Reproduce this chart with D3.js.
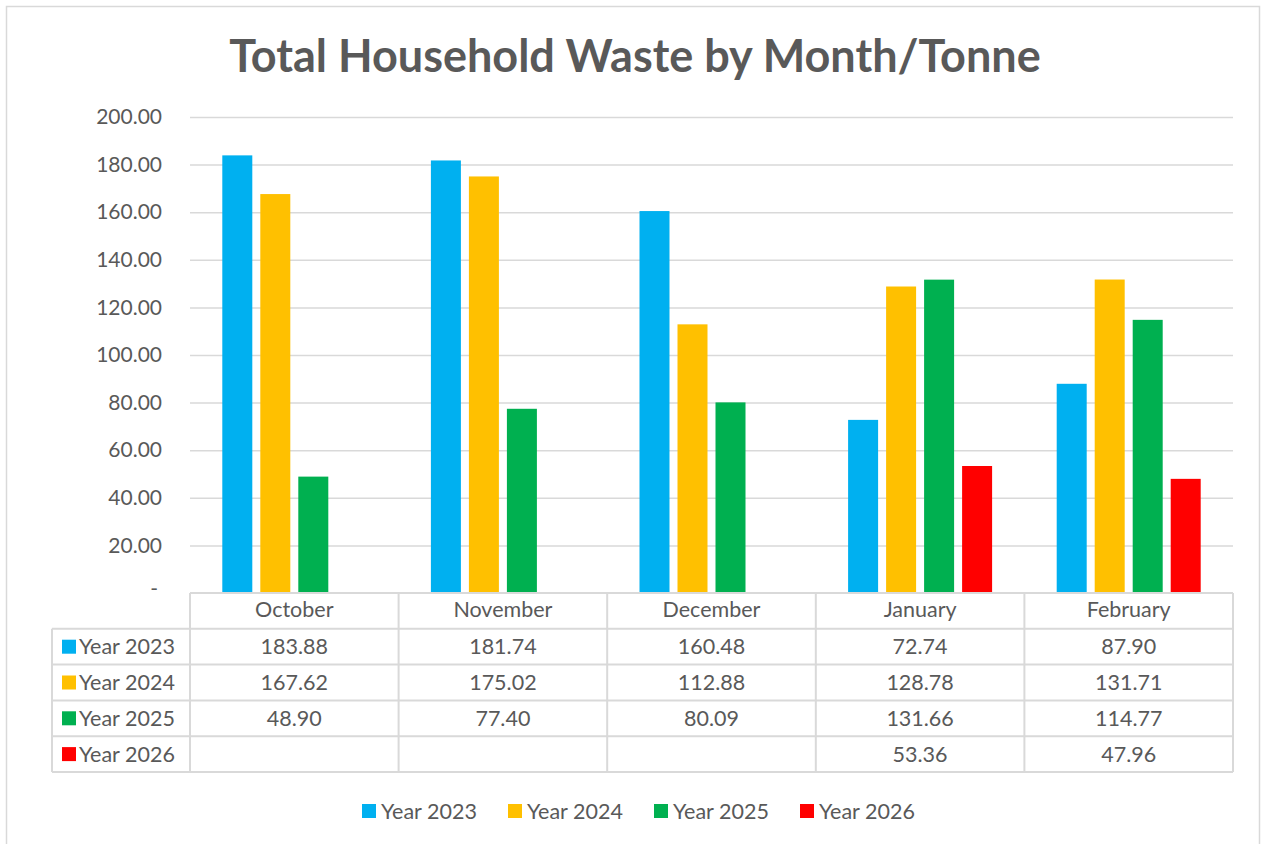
<!DOCTYPE html>
<html><head><meta charset="utf-8">
<script src="https://cdn.jsdelivr.net/npm/d3@7"></script>
<style>body{margin:0;background:#fff;}svg{display:block;font-family:Lato,"Open Sans",sans-serif;}</style>
</head><body><svg id="c" width="1265" height="844"></svg>
<script>
const categories = ["October","November","December","January","February"];
const seriesNames = ["Year 2023","Year 2024","Year 2025","Year 2026"];
const seriesColors = ["#00B0F0","#FFC000","#00B050","#FF0000"];
const y2023 = [183.88,181.74,160.48,72.74,87.90];
const y2024 = [167.62,175.02,112.88,128.78,131.71];
const y2025 = [48.90,77.40,80.09,131.66,114.77];
const y2026 = [null,null,null,53.36,47.96];
const yTicks = [0,20,40,60,80,100,120,140,160,180,200];
const series = [y2023,y2024,y2025,y2026];

(function(){
const svg = d3.select("#c");
const textCol = "#595959", gridCol = "#D9D9D9";
svg.append("rect").attr("x",6.5).attr("y",6.5).attr("width",1253).attr("height",845).attr("fill","#fff").attr("stroke",gridCol).attr("stroke-width",1.5);

svg.append("text").attr("x",635).attr("y",72).attr("text-anchor","middle")
  .attr("font-size",45).attr("font-weight","bold").attr("fill",textCol)
  .text("Total Household Waste by Month/Tonne");

const pLeft=190, pRight=1233, pTop=117, pBottom=593;
const x = d3.scaleBand().domain(categories).range([pLeft,pRight]);
const y = d3.scaleLinear().domain([0,200]).range([pBottom,pTop]);
const xs = d3.scaleBand().domain(seriesNames).range([0,144]).paddingInner(8/38).paddingOuter(0);

const yAxis = d3.axisLeft(y).tickValues(yTicks).tickSize(-(pRight-pLeft)).tickPadding(28)
  .tickFormat(d=> d===0 ? "-" : d3.format(".2f")(d));
const ga = svg.append("g").attr("transform",`translate(${pLeft},0)`).call(yAxis);
ga.select(".domain").remove();
ga.selectAll(".tick line").attr("stroke",gridCol).attr("stroke-width",1.5);
ga.selectAll(".tick text").attr("font-size",21).attr("fill",textCol).attr("font-family","Lato,sans-serif");
ga.selectAll(".tick").filter(d=>d===0).select("text").attr("dx",-4).attr("dy","0.1em");
ga.selectAll(".tick").filter(d=>d===0).select("line").remove();

series.forEach((vals,si)=>{
  svg.append("g").selectAll("rect").data(categories.map((c,i)=>({c,v:vals[i]})).filter(d=>d.v!=null))
    .join("rect")
    .attr("x",d=>x(d.c)+(x.bandwidth()-144)/2+xs(seriesNames[si]))
    .attr("width",xs.bandwidth())
    .attr("y",d=>y(d.v)).attr("height",d=>y(0)-y(d.v))
    .attr("fill",seriesColors[si]);
});

const rowH = 35.8;
const tableLeft = 52;
const tfs = 21.5;
const g = svg.append("g");
const lineAttr = s=>s.attr("stroke",gridCol).attr("stroke-width",2);
lineAttr(g.append("line").attr("x1",pLeft).attr("x2",pRight).attr("y1",pBottom).attr("y2",pBottom));
for(let r=1;r<=5;r++){
  lineAttr(g.append("line").attr("x1",tableLeft).attr("x2",pRight).attr("y1",pBottom+r*rowH).attr("y2",pBottom+r*rowH));
}
const cols = categories.map(c=>x(c)).concat([pRight]);
cols.forEach(cx=>lineAttr(g.append("line").attr("x1",cx).attr("x2",cx).attr("y1",pBottom).attr("y2",pBottom+5*rowH)));
lineAttr(g.append("line").attr("x1",tableLeft).attr("x2",tableLeft).attr("y1",pBottom+rowH).attr("y2",pBottom+5*rowH));

categories.forEach(c=>{
  g.append("text").attr("x",x(c)+x.bandwidth()/2).attr("y",pBottom+rowH/2-1).attr("dy","0.35em")
    .attr("text-anchor","middle").attr("font-size",tfs).attr("fill",textCol).text(c);
});
series.forEach((vals,si)=>{
  const cy = pBottom+(si+1)*rowH+rowH/2;
  g.append("rect").attr("x",62).attr("y",cy-7).attr("width",14).attr("height",14).attr("fill",seriesColors[si]);
  g.append("text").attr("x",79).attr("y",cy).attr("dy","0.35em").attr("font-size",tfs).attr("fill",textCol).text(seriesNames[si]);
  vals.forEach((v,i)=>{
    if(v==null) return;
    g.append("text").attr("x",x(categories[i])+x.bandwidth()/2).attr("y",cy).attr("dy","0.35em")
      .attr("text-anchor","middle").attr("font-size",tfs).attr("fill",textCol).text(d3.format(".2f")(v));
  });
});

const legX = [362,508,654,800];
const lg = svg.append("g");
seriesNames.forEach((n,i)=>{
  lg.append("rect").attr("x",legX[i]).attr("y",804).attr("width",14).attr("height",14).attr("fill",seriesColors[i]);
  lg.append("text").attr("x",legX[i]+19).attr("y",811).attr("dy","0.35em").attr("font-size",tfs).attr("fill",textCol).text(n);
});
})();
</script></body></html>
